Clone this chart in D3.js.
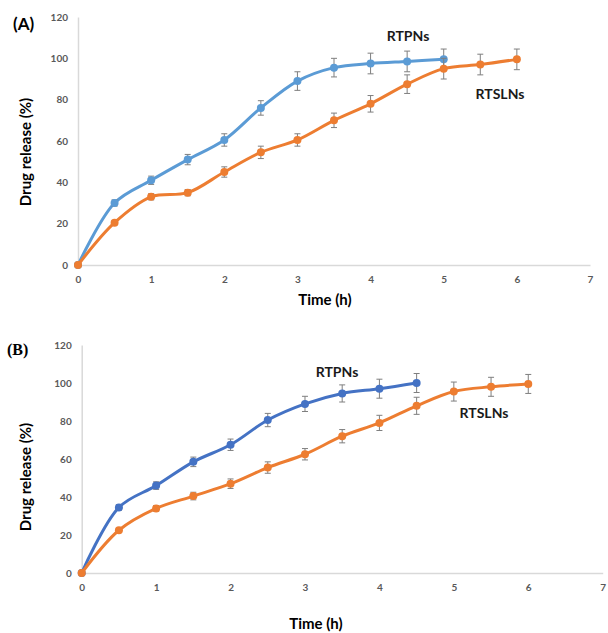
<!DOCTYPE html>
<html>
<head>
<meta charset="utf-8">
<script src="https://cdn.jsdelivr.net/npm/d3@7"></script>
<style>
  body { margin: 0; background: #fff; }
  svg { display: block; }
  .tick text { font-family: Lato, "Open Sans", sans-serif; font-weight: bold; fill: #595959; font-size: 10px; }
</style>
</head>
<body>
<script>
const width = 608, height = 633;

// time points (h)
const timeA = [0, 0.5, 1, 1.5, 2, 2.5, 3, 3.5, 4, 4.5, 5, 5.5, 6];
const timeB = [0, 0.5, 1, 1.5, 2, 2.5, 3, 3.5, 4, 4.5, 5, 5.5, 6];

// panel A
const rtpnsA = [0, 30, 41, 51, 60.5, 76, 89, 95.5, 97.5, 98.5, 99.5];
const rtpnsErrA = [0, 1.5, 2, 2.5, 3, 3.5, 4.5, 4.5, 5, 5, 5];
const rtslnsA = [0, 20.5, 33, 35, 45, 54.5, 60.5, 70, 78, 87.5, 95, 97, 99.5];
const rtslnsErrA = [0, 1, 1.5, 1.5, 2.5, 3, 3, 3.5, 4, 4.5, 5, 5, 5];

// panel B
const rtpnsB = [0, 34.5, 46, 58.5, 67.5, 80.5, 89, 94.5, 97, 100];
const rtpnsErrB = [0, 1.5, 2, 2.5, 3, 3.5, 4, 4.5, 5, 5];
const rtslnsB = [0, 22.5, 34, 40.5, 47, 55.5, 62.5, 72, 79, 88, 95.5, 98, 99.5];
const rtslnsErrB = [0, 1, 1.5, 2, 2.5, 3, 3, 3.5, 4, 4.5, 5, 5, 5];

const xTicks = [0, 1, 2, 3, 4, 5, 6, 7];
const yTicks = [0, 20, 40, 60, 80, 100, 120];

const svg = d3.select("body").append("svg")
    .attr("width", width)
    .attr("height", height);

function series(t, v, e) {
  return v.map((d, i) => ({t: t[i], v: d, e: e[i]}));
}

function panel(cfg) {
  const x = d3.scaleLinear().domain([0, 7]).range([cfg.x0, cfg.x1]);
  const y = d3.scaleLinear().domain([0, 120]).range([cfg.y0, cfg.y1]);
  const g = svg.append("g");

  // axes
  g.append("g")
      .attr("transform", `translate(0,${cfg.y0})`)
      .call(d3.axisBottom(x).tickValues(xTicks).tickFormat(d3.format("d")).tickSize(0).tickPadding(11))
      .call(a => a.select(".domain").attr("stroke", "#d9d9d9").attr("stroke-width", 1.5));
  g.append("g")
      .attr("transform", `translate(${cfg.x0},0)`)
      .call(d3.axisLeft(y).tickValues(yTicks).tickFormat(d3.format("d")).tickSize(0).tickPadding(10))
      .call(a => a.select(".domain").attr("stroke", "#d9d9d9").attr("stroke-width", 1.5));

  const line = d3.line()
      .x(d => x(d.t))
      .y(d => y(d.v))
      .curve(d3.curveCatmullRom.alpha(0.5));

  cfg.series.forEach(s => {
    g.append("path")
        .datum(s.data)
        .attr("fill", "none")
        .attr("stroke", s.color)
        .attr("stroke-width", 3)
        .attr("d", line);

    const eb = g.append("g").attr("stroke", "#7f7f7f").attr("stroke-width", 1);
    s.data.filter(d => d.e > 0).forEach(d => {
      eb.append("line").attr("x1", x(d.t)).attr("x2", x(d.t))
        .attr("y1", y(d.v - d.e)).attr("y2", y(d.v + d.e));
      eb.append("line").attr("x1", x(d.t) - 3).attr("x2", x(d.t) + 3)
        .attr("y1", y(d.v - d.e)).attr("y2", y(d.v - d.e));
      eb.append("line").attr("x1", x(d.t) - 3).attr("x2", x(d.t) + 3)
        .attr("y1", y(d.v + d.e)).attr("y2", y(d.v + d.e));
    });

    g.append("g").selectAll("circle")
      .data(s.data)
      .join("circle")
        .attr("cx", d => x(d.t))
        .attr("cy", d => y(d.v))
        .attr("r", 4)
        .attr("fill", s.color);

    g.append("text")
        .attr("x", s.lx).attr("y", s.ly)
        .attr("text-anchor", "middle")
        .attr("font-family", "Lato, 'Open Sans', sans-serif")
        .attr("font-weight", "bold")
        .attr("font-size", 14)
        .attr("fill", "#1a1a1a")
        .text(s.name);
  });

  g.append("text")
      .attr("x", cfg.xtx).attr("y", cfg.xty)
      .attr("text-anchor", "middle")
      .attr("font-family", "Lato, 'Open Sans', sans-serif")
      .attr("font-weight", "bold")
      .attr("font-size", 15)
      .attr("fill", "#000")
      .text("Time (h)");

  g.append("text")
      .attr("transform", `translate(${cfg.ytx},${cfg.yty}) rotate(-90)`)
      .attr("text-anchor", "middle")
      .attr("font-family", "Lato, 'Open Sans', sans-serif")
      .attr("font-weight", "bold")
      .attr("font-size", 15)
      .attr("fill", "#000")
      .text("Drug release (%)");

  g.append("text")
      .attr("x", cfg.lx).attr("y", cfg.ly)
      .attr("font-family", cfg.lfont)
      .attr("font-weight", "bold")
      .attr("font-size", cfg.lsize)
      .attr("fill", "#000")
      .text(cfg.label);
}

panel({
  x0: 78, x1: 590, y0: 265, y1: 17,
  label: "(A)", lx: 13, ly: 30, lfont: "Lato, 'Open Sans', sans-serif", lsize: 17,
  xtx: 325, xty: 305, ytx: 31, yty: 152,
  series: [
    {name: "RTPNs", color: "#5b9bd5", data: series(timeA, rtpnsA, rtpnsErrA), lx: 408, ly: 41},
    {name: "RTSLNs", color: "#ed7d31", data: series(timeA, rtslnsA, rtslnsErrA), lx: 500, ly: 99}
  ]
});

panel({
  x0: 81.7, x1: 602.7, y0: 573, y1: 345,
  label: "(B)", lx: 7, ly: 355, lfont: "'Liberation Serif', 'DejaVu Serif', serif", lsize: 16,
  xtx: 316, xty: 629, ytx: 31, yty: 477,
  series: [
    {name: "RTPNs", color: "#4472c4", data: series(timeB, rtpnsB, rtpnsErrB), lx: 337, ly: 377},
    {name: "RTSLNs", color: "#ed7d31", data: series(timeB, rtslnsB, rtslnsErrB), lx: 484, ly: 418}
  ]
});
</script>
</body>
</html>
